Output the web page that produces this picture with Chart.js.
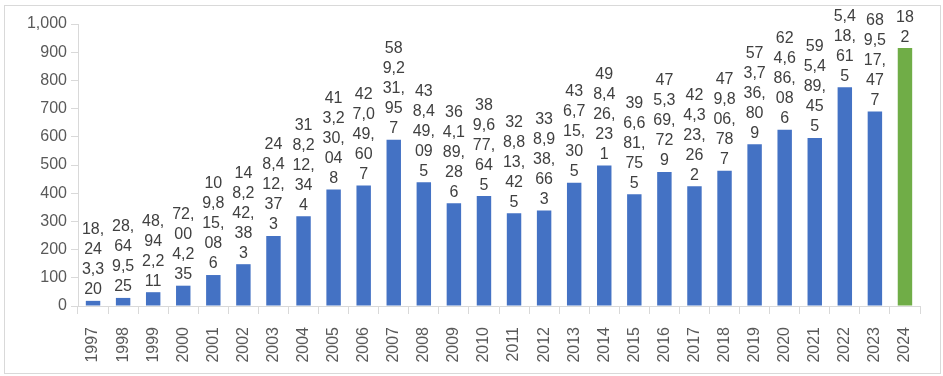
<!DOCTYPE html>
<html>
<head>
<meta charset="utf-8">
<script src="https://cdn.jsdelivr.net/npm/chart.js@4.4.1/dist/chart.umd.min.js"></script>
<style>
  html, body { margin: 0; padding: 0; background: #fff; }
  #box {
    position: absolute; left: 4px; top: 5px;
    width: 935px; height: 367px;
    border: 1px solid #d9d9d9; overflow: hidden;
  }
  #chart { display: block; }
</style>
</head>
<body>
<div id="box"><canvas id="chart" width="935" height="367"></canvas></div>
<script>
// Années et valeurs (unités brutes, l'axe est en millions)
const years = ['1997', '1998', '1999', '2000', '2001', '2002', '2003', '2004', '2005', '2006',
    '2007', '2008', '2009', '2010', '2011', '2012', '2013', '2014', '2015', '2016',
    '2017', '2018', '2019', '2020', '2021', '2022', '2023', '2024'];

const values = [18243320, 28649525, 48942211, 72004235, 109815086, 148242383, 248412373,
    318212344, 413230048, 427049607, 589231957, 438449095, 364189286, 389677645,
    328813425, 338938663, 436715305, 498426231, 396681755, 475369729, 424323262,
    479806787, 573736809, 624686086, 595489455, 775418615, 689517477, 914507182];

const blue = '#4472C4';
const green = '#70AD47';
const barColors = years.map((y, i) => i === years.length - 1 ? green : blue);

const font = 'Liberation Sans, Arial, sans-serif';

/**
 * Coupe le texte caractère par caractère pour tenir dans une colonne étroite.
 */
function wrapLabel(ctx, text, maxWidth) {
    const lines = [];
    let current = '';
    for (const ch of text) {
        const test = current + ch;
        if (current && ctx.measureText(test).width > maxWidth) {
            lines.push(current);
            current = ch;
        } else {
            current = test;
        }
    }
    if (current) lines.push(current);
    return lines;
}

const barLabels = {
    id: 'barLabels',
    afterDatasetsDraw(chart) {
        const ctx = chart.ctx;
        const meta = chart.getDatasetMeta(0);
        ctx.save();
        ctx.font = '16px ' + font;
        ctx.fillStyle = '#404040';
        ctx.textAlign = 'center';
        ctx.textBaseline = 'bottom';
        const maxW = ctx.measureText('0').width * 2.7;
        meta.data.forEach((bar, i) => {
            const txt = values[i].toLocaleString('en-US');
            const lines = wrapLabel(ctx, txt, maxW);
            let y = bar.y - 3;
            for (let k = lines.length - 1; k >= 0; k--) {
                ctx.fillText(lines[k], bar.x, y);
                y -= 20;
            }
        });
        ctx.restore();
    }
};

new Chart(document.getElementById('chart').getContext('2d'), {
    type: 'bar',
    data: {
        labels: years,
        datasets: [{
            data: values,
            backgroundColor: barColors,
            categoryPercentage: 1,
            barPercentage: 0.48
        }]
    },
    options: {
        responsive: false,
        animation: false,
        layout: { padding: { top: 18, right: 20, left: 0, bottom: 0 } },
        plugins: {
            legend: { display: false },
            tooltip: { enabled: false }
        },
        scales: {
            y: {
                min: 0,
                max: 1000000000,
                afterFit: (scale) => { scale.width = 73; },
                border: { color: '#d9d9d9' },
                grid: { drawOnChartArea: false, tickLength: 7, color: '#d9d9d9' },
                ticks: {
                    stepSize: 100000000,
                    padding: 4,
                    color: '#595959',
                    font: { family: font, size: 16 },
                    callback: (v) => (v / 1000000).toLocaleString('en-US')
                }
            },
            x: {
                afterFit: (scale) => { scale.height = 67; },
                border: { color: '#d9d9d9' },
                grid: { drawOnChartArea: false, tickLength: 8, color: '#d9d9d9', offset: true },
                ticks: {
                    minRotation: 90,
                    maxRotation: 90,
                    padding: 13,
                    autoSkip: false,
                    color: '#595959',
                    font: { family: font, size: 16 }
                }
            }
        }
    },
    plugins: [barLabels]
});
</script>
</body>
</html>
